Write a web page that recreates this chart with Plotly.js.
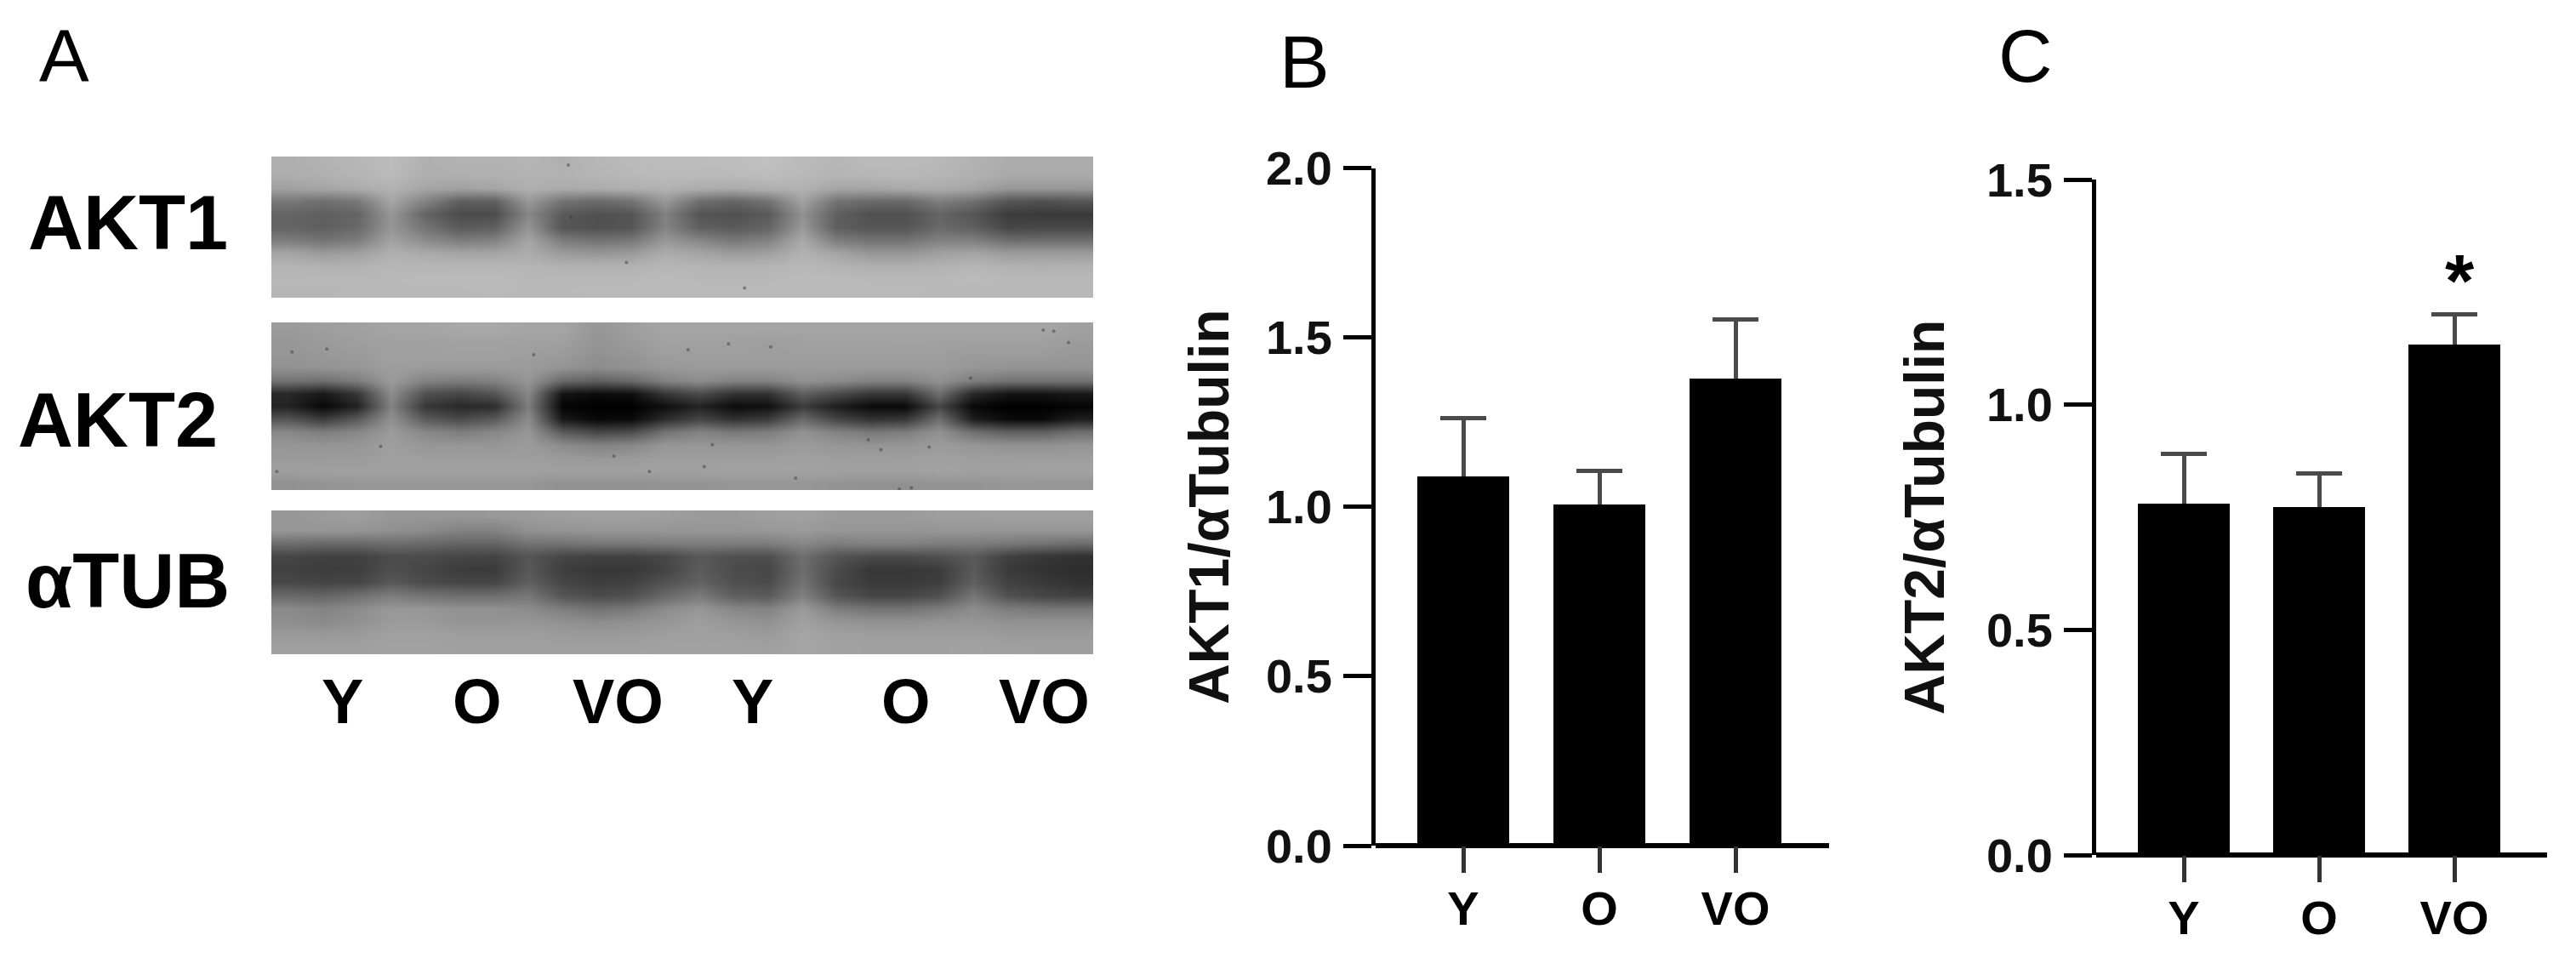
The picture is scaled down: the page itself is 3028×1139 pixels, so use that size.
<!DOCTYPE html>
<html>
<head>
<meta charset="utf-8">
<script src="https://cdn.plot.ly/plotly-3.0.0.min.js"></script>
<style>html,body{margin:0;padding:0;background:#fff}#chart{width:3028px;height:1139px}</style>
</head>
<body>
<div id="chart"></div>
<script>
const groups = ['Y', 'O', 'VO'];
const akt1Means = [1.09, 1.008, 1.378];
const akt1Errors = [0.172, 0.099, 0.176];
const akt2Means = [0.78, 0.772, 1.134];
const akt2Errors = [0.11, 0.076, 0.066];
const akt1Ticks = [0, 0.5, 1.0, 1.5, 2.0];
const akt2Ticks = [0, 0.5, 1.0, 1.5];
const laneLabels = ['Y', 'O', 'VO', 'Y', 'O', 'VO'];
const blotLabels = ['AKT1', 'AKT2', 'αTUB'];

const blotAkt1 = [
[175,178,182,188,176,178,178,180,176,182,186,188,188,190,192,186,182,186,186,184,178,172,172,172],
[172,176,180,186,174,176,176,178,178,180,184,186,186,186,188,184,180,182,184,180,176,170,170,170],
[160,165,172,178,165,160,165,176,170,172,175,178,172,170,175,178,165,165,170,172,165,150,150,150],
[120,110,120,165,130,95,95,152,115,105,115,152,110,100,115,162,115,105,105,125,112,85,80,85],
[100,95,100,150,100,75,75,135,90,80,85,128,85,80,90,145,95,80,80,100,85,60,58,58],
[100,95,105,150,115,90,95,148,85,80,85,132,95,90,100,152,95,85,85,105,95,70,72,72],
[125,115,125,162,140,125,130,165,125,115,120,152,135,120,130,170,125,115,115,130,128,110,110,110],
[165,155,160,176,170,165,165,172,155,150,155,172,165,155,160,178,165,150,150,160,165,155,155,155],
[180,178,178,182,182,182,182,180,178,178,178,182,180,180,180,184,180,175,175,178,182,178,176,178],
[184,184,184,184,186,186,186,184,184,184,184,186,184,184,184,186,186,184,184,184,186,184,184,184],
[182,182,184,184,184,184,186,184,184,186,186,186,186,186,186,186,186,186,186,184,184,184,184,184]
];
const blotAkt2 = [
[155,158,160,165,165,168,168,165,165,150,158,165,165,165,165,165,165,165,165,165,165,165,165,160],
[150,155,158,160,160,162,162,160,160,148,155,162,160,160,158,160,160,160,162,160,160,160,160,155],
[150,152,155,160,160,160,160,158,155,145,150,158,158,158,158,158,158,158,158,158,155,155,155,152],
[145,148,150,158,155,155,155,155,148,140,145,152,155,155,155,155,155,155,155,155,150,148,148,148],
[115,110,125,155,130,125,130,150,105,95,105,130,140,130,130,145,140,130,130,145,125,115,115,115],
[40,25,55,140,80,70,85,135,20,12,15,55,75,50,50,95,75,55,55,110,40,20,20,25],
[35,8,35,130,55,40,45,125,5,0,0,15,35,12,15,60,30,10,10,70,8,0,0,5],
[85,60,90,145,90,75,90,140,25,8,10,45,70,50,60,105,70,50,55,110,30,10,10,30],
[135,125,135,155,135,125,135,150,90,70,75,115,130,120,125,145,130,120,125,145,110,95,95,110],
[150,148,150,158,150,150,150,155,140,130,135,150,150,150,150,155,150,148,150,155,150,145,145,148],
[155,155,155,160,158,158,158,158,155,152,155,158,158,158,158,160,158,158,158,160,158,158,158,158],
[158,160,160,160,160,160,160,160,160,160,160,160,160,162,162,162,160,160,160,162,160,160,162,162],
[145,148,150,150,150,150,150,150,145,145,145,148,148,150,150,150,148,145,145,148,148,150,150,150]
];
const blotTub = [
[150,155,158,150,150,150,152,155,158,160,160,158,155,155,158,160,155,155,155,158,158,160,160,160],
[150,150,150,145,140,130,130,145,148,150,150,150,150,150,152,155,150,150,150,150,150,150,150,150],
[110,105,105,110,105,100,100,115,115,120,120,125,125,125,125,135,125,130,130,125,125,120,115,110],
[70,65,65,75,75,70,68,85,70,65,65,72,88,80,78,110,85,75,75,80,90,65,55,50],
[65,60,62,78,70,60,58,88,62,55,55,68,92,75,70,108,75,55,55,60,90,58,50,45],
[72,68,70,88,75,70,70,95,70,62,65,82,98,80,75,115,72,58,58,62,95,65,58,50],
[105,100,112,125,115,110,110,118,85,75,80,105,122,95,90,128,85,70,70,80,118,80,70,65],
[138,132,140,152,150,145,145,140,125,115,120,140,150,135,130,155,125,115,115,125,140,125,120,120],
[142,138,145,155,155,148,148,150,145,140,145,150,158,150,145,160,150,145,145,148,150,145,145,145],
[155,152,155,160,160,158,158,158,155,155,155,158,160,158,155,165,160,158,158,158,158,155,155,155],
[160,160,160,162,162,160,160,160,160,160,160,162,162,162,160,165,162,160,160,160,162,160,158,158]
];
const specksAkt1X = [8.67, 8.75, 10.37, 13.82];
const specksAkt1Y = [0.66, 4.73, 8.25, 10.23];
const specksAkt2X = [0.6,1.62,7.66,12.17,13.35,14.58,22.85,22.54,23.28,20.42,3.19,10.0,12.88,12.64,11.04,15.31,0.16,18.34,18.69,17.43,17.8,19.21];
const specksAkt2Y = [2.29,2.07,2.51,2.11,1.67,1.89,0.67,0.6,1.56,4.33,9.62,10.38,9.49,11.18,11.56,12.07,11.56,12.93,12.84,9.11,9.89,9.67];
const capInset = [0.02, 0.02, 0.02];

const W = 3028, H = 1139;
const FONT = 'Liberation Sans';
const dx = (a, b) => [a / W, b / W];
const dy = (top, bottom) => [1 - bottom / H, 1 - top / H];
const px = v => v / W;
const py = v => 1 - v / H;

function errorLayer(y, e, xa, ya) {
  return {
    type: 'bar', x: [0, 1, 2], y: y, xaxis: xa, yaxis: ya, width: 0.675,
    marker: {color: 'rgba(0,0,0,0)', line: {width: 0}},
    error_y: {type: 'data', symmetric: false, array: e, arrayminus: capInset, color: '#4a4a4a', thickness: 5, width: 27},
    hoverinfo: 'skip', showlegend: false, cliponaxis: false
  };
}
function bar(y, xa, ya) {
  return {type: 'bar', x: [0, 1, 2], y: y, xaxis: xa, yaxis: ya, width: 0.675,
    marker: {color: '#000', line: {width: 0}}, hoverinfo: 'skip', showlegend: false, cliponaxis: false};
}
function blot(z, xa, ya) {
  return {type: 'heatmap', z: z, x0: 0.5, dx: 1, y0: 0.5, dy: 1, xaxis: xa, yaxis: ya,
    zmin: 0, zmax: 255, zsmooth: 'best', showscale: false, hoverinfo: 'skip',
    colorscale: [[0, '#000'], [1, '#fff']]};
}
function specks(x, y, xa, ya) {
  return {type: 'scatter', mode: 'markers', x: x, y: y, xaxis: xa, yaxis: ya, showlegend: false, hoverinfo: 'skip',
    marker: {color: '#3c3c3c', size: 4, opacity: 0.5, line: {width: 0}}};
}
const hidden = (domain, range, anchor) => ({domain, range, anchor, visible: false, fixedrange: true});
function barX(a, b, centre0, step, anchor) {
  return {domain: dx(a, b), range: [(a - centre0) / step, (b - centre0) / step], anchor,
    tickmode: 'array', tickvals: [0, 1, 2], ticktext: groups, ticks: 'outside', ticklen: 31, tickwidth: 5, tickcolor: '#333',
    ticklabelstandoff: -6,
    showline: false, showgrid: false, zeroline: false,
    tickfont: {family: FONT, size: 56, color: '#000', weight: 'bold'}, fixedrange: true};
}
function barY(top, bottom, max, vals, title, anchor, standoff) {
  return {domain: dy(top, bottom), range: [0, max], anchor,
    tickmode: 'array', tickvals: vals, ticktext: vals.map(v => v.toFixed(1)), ticks: 'outside', ticklen: 33, tickwidth: 5, tickcolor: '#000',
    ticklabelstandoff: 2,
    showline: true, linecolor: '#000', linewidth: 5, showgrid: false,
    zeroline: true, zerolinecolor: '#000', zerolinewidth: 6,
    tickfont: {family: FONT, size: 56, color: '#111', weight: 'bold'}, fixedrange: true,
    title: {text: title, standoff, font: {family: FONT, size: 66, color: '#111', weight: 'bold'}}};
}
function label(text, x, y, size, bold) {
  return {xref: 'paper', yref: 'paper', x: px(x), y: py(y), text: text, showarrow: false, xanchor: 'center', yanchor: 'middle',
    font: {family: FONT, size: size, color: '#000', weight: bold ? 'bold' : 'normal'}};
}

const traces = [
  blot(blotAkt1, 'x3', 'y3'), specks(specksAkt1X, specksAkt1Y, 'x3', 'y3'),
  blot(blotAkt2, 'x4', 'y4'), specks(specksAkt2X, specksAkt2Y, 'x4', 'y4'),
  blot(blotTub, 'x5', 'y5'),
  errorLayer(akt1Means, akt1Errors, 'x', 'y'), bar(akt1Means, 'x', 'y'),
  errorLayer(akt2Means, akt2Errors, 'x2', 'y2'), bar(akt2Means, 'x2', 'y2')
];

const laneX = [402, 561, 726, 885, 1065, 1227];
const rowPos = [[150, 262], [138, 494], [150, 683]];
const annotations = [
  label('A', 75, 66, 88, false), label('B', 1533, 72, 88, false), label('C', 2381, 65, 88, false),
  ...blotLabels.map((t, i) => label(t, rowPos[i][0], rowPos[i][1], 90, true)),
  ...laneLabels.map((t, i) => label(t, laneX[i], 824, 74, true)),
  {xref: 'x2', yref: 'paper', x: 2, xshift: 6, y: py(329), text: '*', showarrow: false, xanchor: 'center', yanchor: 'middle',
   font: {family: FONT, size: 88, color: '#000', weight: 'bold'}}
];

const layout = {
  width: W, height: H, margin: {l: 0, r: 0, t: 0, b: 0}, paper_bgcolor: '#fff', plot_bgcolor: 'rgba(0,0,0,0)', showlegend: false,
  barmode: 'overlay', bargap: 0,
  xaxis: barX(1617, 2150, 1720, 160, 'y'),
  yaxis: barY(197.5, 994, 2, akt1Ticks, 'AKT1/αTubulin', 'x', 23),
  xaxis2: barX(2464, 2994, 2567, 159, 'y2'),
  yaxis2: barY(211, 1005, 1.5, akt2Ticks, 'AKT2/αTubulin', 'x2', 29),
  xaxis3: hidden(dx(319, 1285), [0, 24], 'y3'), yaxis3: hidden(dy(184, 350), [11, 0], 'x3'),
  xaxis4: hidden(dx(319, 1285), [0, 24], 'y4'), yaxis4: hidden(dy(379, 576), [13, 0], 'x4'),
  xaxis5: hidden(dx(319, 1285), [0, 24], 'y5'), yaxis5: hidden(dy(600, 769), [11, 0], 'x5'),
  annotations
};
Plotly.newPlot('chart', traces, layout, {displayModeBar: false, staticPlot: true});
</script>
</body>
</html>
